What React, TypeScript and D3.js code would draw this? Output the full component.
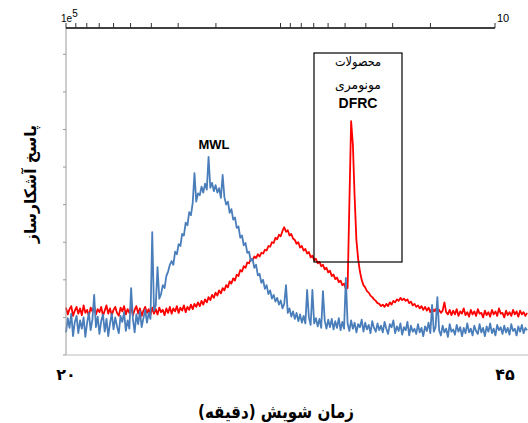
import React from 'react'
import { scaleLinear, scaleLog, line } from 'd3'

// detector signal sampled every 0.1 min from 20 min
const startMinute = 20
const sampleStep = 0.1

const mwlSignal = [
  60, 98, 72, 110, 50, 88, 104, 58, 92, 70,
  100, 48, 86, 112, 66, 94, 160, 74, 102, 56,
  90, 108, 62, 96, 50, 84, 110, 68, 100, 76,
  58, 104, 88, 114, 64, 92, 70, 178, 96, 60,
  108, 82, 116, 74, 98, 120, 86, 112, 96, 327,
  118, 132, 234, 150, 162, 186, 178, 210, 222, 240,
  250, 240, 275, 268, 295, 290, 322, 318, 352, 345,
  380, 372, 405, 484, 408, 430, 425, 448, 432, 456,
  440, 527, 445, 458, 436, 452, 432, 444, 418, 479,
  420, 400, 408, 378, 388, 360, 366, 338, 342, 312,
  318, 292, 298, 272, 275, 250, 256, 232, 240, 212,
  216, 192, 200, 176, 186, 162, 172, 150, 160, 142,
  152, 134, 145, 124, 136, 186, 112, 124, 102, 116,
  96, 112, 90, 108, 86, 104, 84, 173, 100, 80,
  173, 84, 98, 76, 96, 72, 170, 92, 70, 94,
  74, 96, 68, 90, 72, 98, 66, 88, 70, 205,
  84, 64, 92, 70, 86, 60, 82, 74, 94, 62,
  86, 68, 80, 58, 90, 72, 62, 84, 66, 78,
  60, 88, 70, 56, 82, 74, 92, 58, 76, 64,
  84, 54, 74, 66, 88, 52, 78, 62, 70, 56,
  82, 60, 72, 50, 76, 64, 86, 58, 133, 62,
  74, 154, 66, 52, 78, 60, 70, 48, 82, 62,
  68, 54, 80, 62, 74, 50, 72, 58, 84, 60,
  70, 52, 78, 64, 56, 82, 60, 72, 50, 76,
  62, 84, 58, 70, 52, 80, 66, 74, 56, 78,
  60, 72, 54, 82, 64, 70, 52, 76, 62, 80,
  58, 72, 66,
]

const dfrcSignal = [
  126, 108, 122, 130, 104, 118, 128, 110, 124, 106,
  132, 112, 120, 104, 126, 116, 130, 108, 122, 114,
  128, 104, 118, 132, 110, 124, 106, 120, 128, 112,
  104, 126, 116, 130, 108, 122, 112, 128, 106, 120,
  130, 110, 124, 104, 118, 128, 112, 122, 106, 126,
  110, 122, 108, 126, 114, 120, 106, 124, 112, 128,
  110, 124, 116, 130, 112, 126, 118, 132, 114, 128,
  120, 134, 122, 136, 128, 140, 130, 144, 134, 148,
  140, 154, 146, 160, 152, 166, 158, 172, 164, 178,
  172, 186, 180, 196, 190, 204, 198, 214, 210, 226,
  222, 236, 232, 246, 244, 256, 252, 262, 258, 268,
  262, 272, 270, 280, 278, 290, 288, 300, 298, 312,
  308, 320, 316, 330, 340, 328, 332, 318, 322, 310,
  306, 296, 300, 286, 290, 278, 282, 270, 274, 260,
  264, 252, 256, 244, 248, 236, 240, 228, 232, 220,
  224, 210, 214, 202, 206, 194, 198, 186, 190, 176,
  178, 400, 622, 560, 420, 306, 255, 222, 200, 186,
  180, 170, 166, 158, 154, 148, 144, 138, 136, 130,
  134, 128, 136, 130, 140, 134, 144, 140, 148, 144,
  152, 146, 150, 144, 148, 138, 142, 132, 136, 128,
  132, 124, 130, 120, 128, 118, 126, 114, 124, 116,
  122, 110, 120, 112, 118, 140, 114, 108, 120, 106,
  118, 108, 122, 104, 116, 110, 124, 106, 114, 102,
  120, 108, 116, 104, 122, 110, 112, 100, 118, 106,
  114, 102, 120, 108, 116, 104, 124, 110, 112, 100,
  118, 106, 114, 104, 120, 108, 116, 102, 118, 108,
  114, 104, 112,
]

const bottomTickValues = [20, 45]
const bottomTickLabels = ['۲۰', '۴۵']
const yTickValues = [0, 100, 200, 300, 400, 500, 600, 700, 800]
const xTitle = 'زمان شویش (دقیقه)'
const yTitle = 'پاسخ آشکارساز'
const boxLines = ['محصولات', 'مونومری']

const App = () => {
  const width = 528
  const height = 423
  const left = 66
  const top = 28
  const bottom = 355

  const x = scaleLinear().domain([20, 45]).range([left, 506])
  const y = scaleLinear().domain([0, 870]).range([bottom, top])
  const mw = scaleLog().domain([1000, 10]).range([left, 495])

  const path = line<number>()
    .x((d, i) => x(startMinute + i * sampleStep))
    .y(d => y(d))

  const persian = '"DejaVu Sans", sans-serif'
  const latin = '"Liberation Sans", Arial, sans-serif'

  return (
    <svg width={width} height={height} viewBox={`0 0 ${width} ${height}`}
      style={{ position: 'absolute', left: 0, top: 0, background: '#fff' }}>
      {/* curves */}
      <path d={path(dfrcSignal) || ''} fill='none' stroke='#ff0000' strokeWidth={1.8} strokeLinejoin='round' />
      <path d={path(mwlSignal) || ''} fill='none' stroke='#4a7ebb' strokeWidth={1.8} strokeLinejoin='round' />

      {/* left axis */}
      <line x1={left} x2={left} y1={top} y2={bottom} stroke='#999' />
      {yTickValues.map(v => (
        <line key={v} x1={left - 3} x2={left} y1={y(v)} y2={y(v)} stroke='#999' />
      ))}
      {/* bottom axis */}
      <line x1={left} x2={width} y1={bottom} y2={bottom} stroke='#bbb' />

      {/* top log axis */}
      <line x1={left} x2={mw(10)} y1={top} y2={top} stroke='#000' strokeWidth={1.5} />
      {mw.ticks().map((t, i) => (
        <line key={i} x1={mw(t)} x2={mw(t)} y1={top - 5} y2={top} stroke='#333' />
      ))}
      <text x={left - 5} y={22} fontSize={10} fontFamily={latin}>1e<tspan dy={-5} fontSize={10}>5</tspan></text>
      <text x={mw(10) + 2} y={22} fontSize={11} fontFamily={latin}>10</text>

      {/* bottom tick labels */}
      {bottomTickValues.map((v, i) => (
        <text key={v} x={i === 0 ? x(v) : x(v) - 1} y={380} textAnchor='middle' fontSize={16}
          fontWeight='bold' fontFamily={persian}>{bottomTickLabels[i]}</text>
      ))}

      {/* titles */}
      <text x={276} y={418} textAnchor='middle' fontSize={18} fontWeight='bold' fontFamily={persian}
        textLength={156} lengthAdjust='spacingAndGlyphs'>{xTitle}</text>
      <text transform='translate(36,184) rotate(-90)' textAnchor='middle' fontSize={16} fontWeight='bold'
        fontFamily={persian} textLength={118} lengthAdjust='spacingAndGlyphs'>{yTitle}</text>

      {/* annotations */}
      <text x={214} y={149} textAnchor='middle' fontSize={13} fontWeight='bold' fontFamily={latin}>MWL</text>
      <rect x={314} y={53} width={88} height={209} fill='none' stroke='#000' strokeWidth={1.2} />
      {boxLines.map((t, i) => (
        <text key={t} x={358} y={66 + i * 23} textAnchor='middle' fontSize={13} fontFamily={persian}
          textLength={46} lengthAdjust='spacingAndGlyphs'>{t}</text>
      ))}
      <text x={358} y={108} textAnchor='middle' fontSize={14} fontWeight='bold' fontFamily={latin}>DFRC</text>
    </svg>
  )
}

export default App
